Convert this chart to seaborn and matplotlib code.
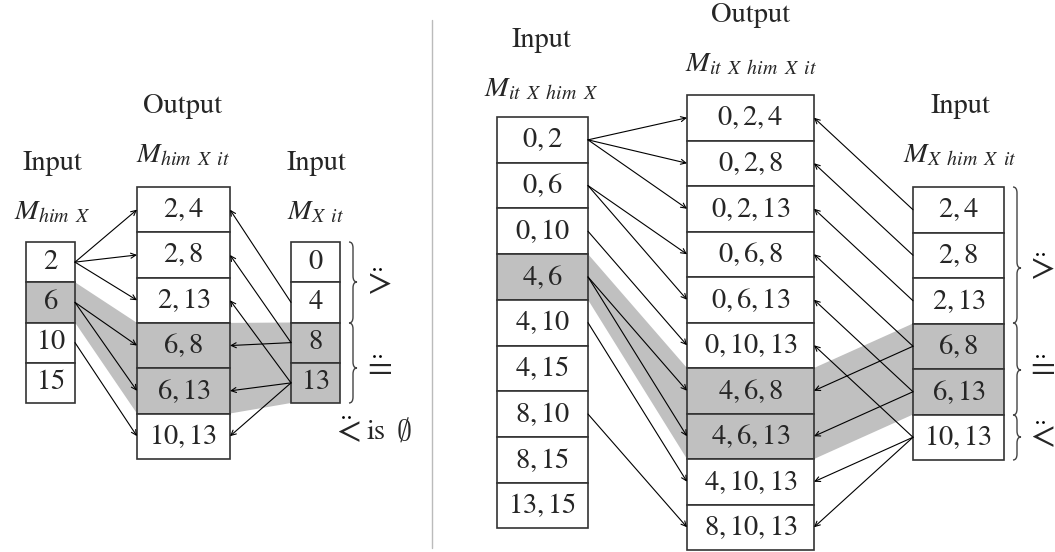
"""
Join diagram: two inputs feeding an output table, with the matching rows shaded
"""

import matplotlib
matplotlib.use('Agg')
import matplotlib.pyplot as plt
from matplotlib.patches import Rectangle, Polygon, PathPatch
from matplotlib.path import Path
import seaborn as sns

sns.set_theme(style='white')
plt.rcParams['font.family'] = ['STIXGeneral', 'DejaVu Serif']
plt.rcParams['mathtext.fontset'] = 'stix'

# ---- left panel data ----
left_in_a = ['2', '6', '10', '15']
left_out = ['2,4', '2,8', '2,13', '6,8', '6,13', '10,13']
left_in_b = ['0', '4', '8', '13']
left_edges_a = [(0, 0), (0, 1), (0, 2), (1, 3), (1, 4), (2, 5)]
left_edges_b = [(1, 0), (2, 1), (2, 3), (3, 2), (3, 4), (3, 5)]
left_shade_a = [1]
left_shade_out = [3, 4]
left_shade_b = [2, 3]

# ---- right panel data ----
right_in_a = ['0,2', '0,6', '0,10', '4,6', '4,10', '4,15', '8,10', '8,15', '13,15']
right_out = ['0,2,4', '0,2,8', '0,2,13', '0,6,8', '0,6,13', '0,10,13',
             '4,6,8', '4,6,13', '4,10,13', '8,10,13']
right_in_b = ['2,4', '2,8', '2,13', '6,8', '6,13', '10,13']
right_edges_a = [(0, 0), (0, 1), (0, 2), (1, 3), (1, 4), (2, 5),
                 (3, 6), (3, 7), (4, 8), (6, 9)]
right_edges_b = [(0, 0), (1, 1), (2, 2), (3, 3), (3, 6), (4, 4), (4, 7),
                 (5, 5), (5, 8), (5, 9)]
right_shade_a = [3]
right_shade_out = [6, 7]
right_shade_b = [3, 4]

SHADE = '#c0c0c0'
EDGE = '#333333'
FS = 20.5
SP = r'\ \,'   # word gap inside the subscripts


def draw_column(ax, x, top, w, h, labels, shaded):
    for i, lab in enumerate(labels):
        fc = SHADE if i in shaded else 'white'
        ax.add_patch(Rectangle((x, top + i * h), w, h, facecolor=fc,
                               edgecolor=EDGE, lw=1.2, zorder=3))
        ax.text(x + w / 2, top + (i + 0.5) * h, '$' + lab + '$', ha='center',
                va='center', fontsize=FS, zorder=4)
    return dict(x0=x, x1=x + w, top=top, h=h)


def row_y(col, i):
    return col['top'] + (i + 0.5) * col['h']


def row_span(col, rows):
    return col['top'] + min(rows) * col['h'], col['top'] + (max(rows) + 1) * col['h']


def arrow(ax, p0, p1):
    ax.annotate('', xy=p1, xytext=p0,
                arrowprops=dict(arrowstyle='->', lw=0.8, color='black',
                                shrinkA=0, shrinkB=0, mutation_scale=9),
                zorder=5)


def brace(ax, x, y0, y1, ym, w=8, r=6):
    xm = x + w / 2
    verts = [(x, y0), (xm, y0), (xm, y0 + r),
             (xm, ym - r), (xm, ym), (x + w, ym),
             (xm, ym), (xm, ym + r),
             (xm, y1 - r), (xm, y1), (x, y1)]
    codes = [Path.MOVETO, Path.CURVE3, Path.CURVE3,
             Path.LINETO, Path.CURVE3, Path.CURVE3,
             Path.CURVE3, Path.CURVE3,
             Path.LINETO, Path.CURVE3, Path.CURVE3]
    ax.add_patch(PathPatch(Path(verts, codes), fill=False, lw=1.0,
                           edgecolor='#444444', zorder=3))


def dotted_rel(ax, x, y, sym, gap=15):
    # relation sign with two dots right above it
    ax.text(x, y + 9, '$' + sym + '$', ha='center', va='baseline', fontsize=26)
    ax.plot([x - 3, x + 3], [y - gap, y - gap], 'o', ms=2.0, color='black',
            markeredgewidth=0)


def label(ax, x, y, name, sub):
    ax.text(x, y, name, ha='center', va='center', fontsize=FS)
    ax.text(x, y + 50, r'$M_{' + SP.join(sub.split()) + '}$',
            ha='center', va='center', fontsize=FS)


def draw_panel(ax, a, out, b, edges_a, edges_b, sa, so, sb):
    # shaded band linking the matching rows
    a0, a1 = row_span(a, sa)
    o0, o1 = row_span(out, so)
    b0, b1 = row_span(b, sb)
    ax.add_patch(Polygon([(a['x1'], a0), (out['x0'], o0), (out['x0'], o1), (a['x1'], a1)],
                         facecolor=SHADE, edgecolor='none', zorder=1))
    ax.add_patch(Polygon([(out['x1'], o0), (b['x0'], b0), (b['x0'], b1), (out['x1'], o1)],
                         facecolor=SHADE, edgecolor='none', zorder=1))
    for i, j in edges_a:
        arrow(ax, (a['x1'], row_y(a, i)), (out['x0'], row_y(out, j)))
    for i, j in edges_b:
        arrow(ax, (b['x0'], row_y(b, i)), (out['x1'], row_y(out, j)))


fig = plt.figure(figsize=(10.55, 5.52), dpi=100)
ax = fig.add_axes([0, 0, 1, 1])
ax.set_xlim(0, 1055)
ax.set_ylim(552, 0)
ax.axis('off')

# left panel
la = draw_column(ax, 26, 242, 49, 40.25, left_in_a, left_shade_a)
lo = draw_column(ax, 137, 187, 93, 45.3, left_out, left_shade_out)
lb = draw_column(ax, 291, 242, 49, 40.25, left_in_b, left_shade_b)
draw_panel(ax, la, lo, lb, left_edges_a, left_edges_b,
           left_shade_a, left_shade_out, left_shade_b)

label(ax, 183, 106, 'Output', 'him X it')
label(ax, 52, 163, 'Input', 'him X')
label(ax, 316, 163, 'Input', 'X it')

brace(ax, 349, 242, 323, 282)
brace(ax, 349, 323, 403, 368)
dotted_rel(ax, 377, 284, '>')
dotted_rel(ax, 377, 367, '=', gap=11)
dotted_rel(ax, 346, 432, '<')
ax.text(376, 432, 'is', ha='center', va='center', fontsize=FS)
ax.text(404, 432, r'$\emptyset$', ha='center', va='center', fontsize=FS + 1,
        math_fontfamily='cm')

# separator
ax.plot([432, 432], [20, 548], color='#bbbbbb', lw=1.0)

# right panel
ra = draw_column(ax, 497, 117, 91, 45.7, right_in_a, right_shade_a)
ro = draw_column(ax, 687, 95, 127, 45.5, right_out, right_shade_out)
rb = draw_column(ax, 913, 187, 91, 45.5, right_in_b, right_shade_b)
draw_panel(ax, ra, ro, rb, right_edges_a, right_edges_b,
           right_shade_a, right_shade_out, right_shade_b)

label(ax, 541, 40, 'Input', 'it X him X')
label(ax, 751, 15, 'Output', 'it X him X it')
label(ax, 960, 106, 'Input', 'X him X it')

brace(ax, 1013, 187, 323, 268)
brace(ax, 1013, 323, 415, 370)
brace(ax, 1013, 415, 460, 437)
dotted_rel(ax, 1040, 269, '>')
dotted_rel(ax, 1040, 367, '=', gap=11)
dotted_rel(ax, 1040, 437, '<')

fig.savefig('out.png', dpi=100)
